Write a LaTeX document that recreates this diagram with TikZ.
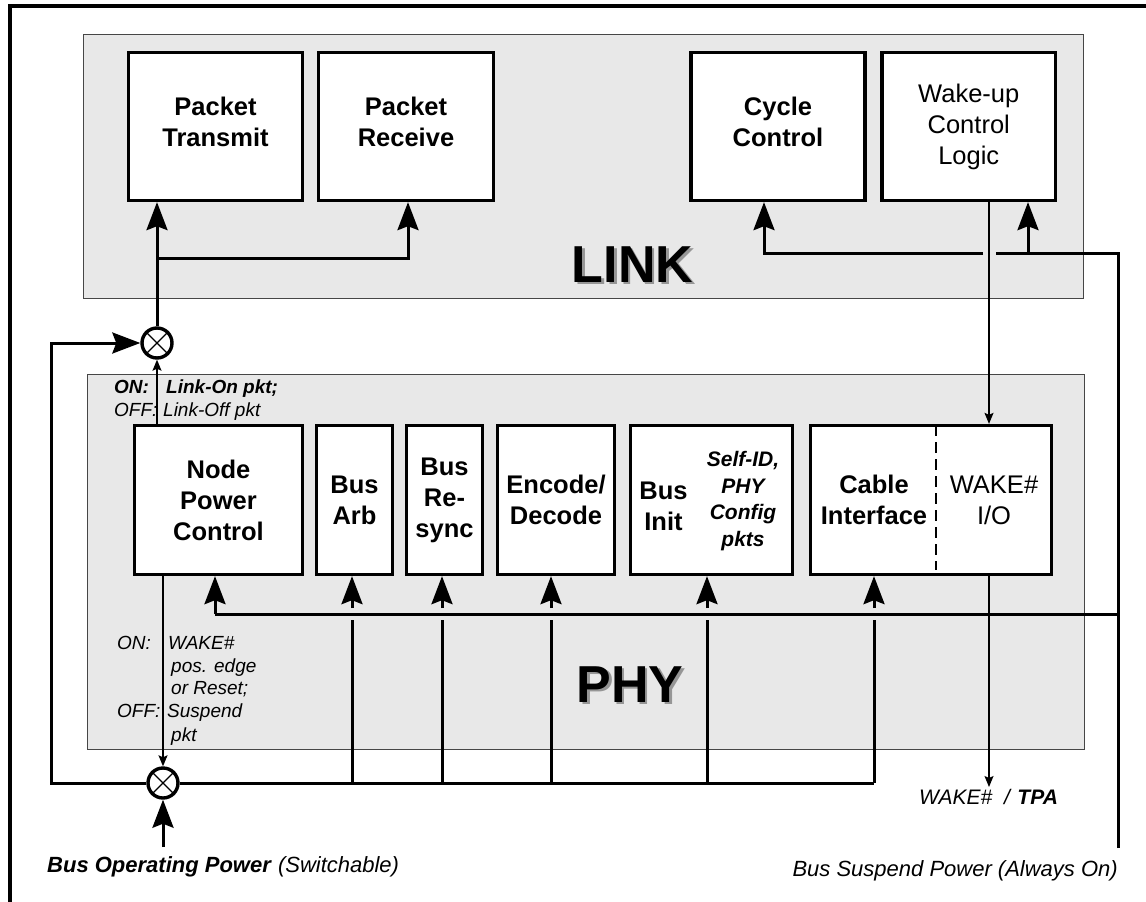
\documentclass[tikz,border=0pt]{standalone}
\usepackage{fontspec}
\setmainfont{Liberation Sans}
\usetikzlibrary{arrows.meta,calc}
\definecolor{panel}{RGB}{232,232,232}
\definecolor{panelline}{RGB}{70,70,70}
\definecolor{shadowgray}{RGB}{150,150,150}
\begin{document}
\begin{tikzpicture}[x=1pt,y=-1pt,
  panelbox/.style={fill=panel,draw=panelline,line width=1.3pt,inner sep=0pt,anchor=north west},
  blk/.style={draw=black,fill=white,line width=3.3pt,inner sep=0pt,align=center,
    font=\fontsize{25.5}{31}\selectfont\bfseries},
  blkr/.style={blk,font=\fontsize{25.5}{31}\selectfont},
  btxt/.style={inner sep=0pt,align=center,font=\fontsize{25.5}{31}\selectfont\bfseries},
  conn/.style={line width=3pt},
  bigarr/.style={conn,-{Stealth[length=28pt,width=21pt,inset=4pt]}},
  thinl/.style={line width=1.2pt},
  smallarr/.style={thinl,-{Stealth[length=11pt,width=9pt,inset=2pt]}},
  mixer/.style={circle,draw,line width=3.4pt,fill=white,minimum size=30pt,inner sep=0pt},
  lbl/.style={inner sep=0pt,anchor=base west,font=\fontsize{19}{23}\selectfont\itshape},
  lblb/.style={lbl,font=\fontsize{19}{23}\selectfont\bfseries\itshape},
  big/.style={inner sep=0pt,anchor=base,font=\fontsize{52}{60}\selectfont\bfseries},
  foot/.style={inner sep=0pt,font=\fontsize{22}{26}\selectfont}
]
\useasboundingbox (0,0) rectangle (1146,902);
% outer frame (cropped)
\draw[line width=4pt] (10,902) -- (10,5.5) -- (1146,5.5);

% panels
\node[panelbox,minimum width=1000pt,minimum height=264pt] (link) at (83,34) {};
\node[panelbox,minimum width=997pt,minimum height=375pt] (phy) at (87,374) {};

% LINK blocks
\node[blk,minimum width=174pt,minimum height=148pt] (pt) at (215.5,126.5) {};
\node[blk,minimum width=175pt,minimum height=148pt] (pr) at (406,126.5) {};
\node[blk,minimum width=174pt,minimum height=148pt] (cc) at (778,126.5) {};
\node[blkr,minimum width=173.5pt,minimum height=148pt] (wk) at (968.75,126.5) {Wake-up\\Control\\Logic};
\node[btxt] (ptt) at (215.5,121.5) {Packet\\Transmit};
\node[btxt] (prt) at (406,121.5) {Packet\\Receive};
\node[btxt] (cct) at (778,121.5) {Cycle\\Control};

% PHY blocks
\node[blk,minimum width=168pt,minimum height=149pt] (npc) at (218.5,500) {Node\\Power\\Control};
\node[blk,minimum width=76pt,minimum height=149pt] (arb) at (354.5,500) {Bus\\Arb};
\node[blk,minimum width=76pt,minimum height=149pt] (rsy) at (444.5,500) {Bus\\Re-\\sync};
\node[blk,minimum width=117pt,minimum height=149pt] (enc) at (556,500) {Encode/\\Decode};
\node[blk,minimum width=162pt,minimum height=149pt] (init) at (711.5,500) {};
\node[blk,minimum width=241pt,minimum height=149pt] (cab) at (931,500) {};
\coordinate (divx) at (936,0);
\draw[line width=2.2pt,dash pattern=on 11pt off 6pt] (cab.north -| divx) ++(0,1.5) -- (936,570);

\node[btxt] (initt) at (663.5,506) {Bus\\Init};
\node[inner sep=0pt,align=center,font=\fontsize{21}{26.7}\selectfont\bfseries\itshape] (initp) at (743,501) {Self-ID,\\PHY\\Config\\pkts};
\node[btxt] (cabt) at (874,500) {Cable\\Interface};
\node[inner sep=0pt,align=center,font=\fontsize{25.5}{31}\selectfont] (wio) at (994,500) {WAKE\#\\I/O};

% big labels with shadow
\node[big,text=shadowgray] at (635,284.5) {LINK};
\node[big] (linkt) at (632.5,282) {LINK};
\node[big,text=shadowgray] at (632.5,704.5) {PHY};
\node[big] (phyt) at (630,702) {PHY};

% mixers
\node[mixer] (m1) at (157,343) {};
\node[mixer] (m2) at (163,783) {};

% LINK connectors
\coordinate (j1) at (157,258);
\coordinate (prin) at (408,258);
\draw[bigarr] (m1.north) -- (pt.south -| m1.north);
\draw[bigarr] (j1) -- (prin) -- (pr.south -| prin);

% suspend power
\coordinate (sp) at (1118,848);
\coordinate (sc) at (1118,253);
\coordinate (gapR) at (996,253);
\coordinate (gapL) at (983,253);
\coordinate (cci) at (764,253);
\coordinate (wki) at (1028,253);
\draw[conn] (sp) -- (sc) -- (gapR);
\draw[bigarr] (gapL) -- (cci) -- (cc.south -| cci);
\draw[bigarr] (wki) -- (wk.south -| wki);

% wake line
\coordinate (wl) at (989,0);
\coordinate (wakeout) at (989,787);
\draw[smallarr] (wk.south -| wl) -- (cab.north -| wl);
\draw[smallarr] (cab.south -| wl) -- (wakeout);

% PHY horizontal control line
\coordinate (hb) at (215,614);
\coordinate (hr) at (1119.5,614);
\draw[conn] (hr) -- (hb);
\draw[bigarr] (hb) -- (npc.south -| hb);

% bottom bus
\coordinate (lb) at (51,783);
\coordinate (lt) at (51,343);
\coordinate (be) at (874,783);
\draw[bigarr] (m2.west) -- (lb) -- (lt) -- (m1.west);
\draw[conn] (m2.east) -- (be);
\foreach \xx/\bb in {352/arb,442/rsy,551/enc,707/init,874/cab} {
  \draw[conn] (\xx,783) -- (\xx,620);
  \draw[bigarr] (\xx,608) -- (\bb.south -| \xx,0);
}

% node power control thin lines
\draw[smallarr] (npc.north -| m1.south) -- (m1.south);
\draw[smallarr] (npc.south -| m2.north) -- (m2.north);
\coordinate (bop) at (163,847);
\draw[bigarr] (bop) -- (m2.south);

% mixer crosses
\foreach \m in {m1,m2} {
  \draw[thinl] (\m.north west) -- (\m.south east);
  \draw[thinl] (\m.north east) -- (\m.south west);
}

% labels
\node[lblb] (on1) at (114,393) {ON:};
\node[lblb] (on1t) at (166,393) {Link-On pkt;};
\node[lbl] (off1) at (114,416) {OFF:};
\node[lbl] (off1t) at (163,416) {Link-Off pkt};

\node[lbl] (on2) at (117,649) {ON:};
\node[lbl] (on2a) at (168,649) {WAKE\#};
\node[lbl] (on2b) at (171,672) {pos. edge};
\node[lbl] (on2c) at (171,694) {or Reset;};
\node[lbl] (off2) at (117,717) {OFF:};
\node[lbl] (off2a) at (167,717) {Suspend};
\node[lbl] (off2b) at (171,741) {pkt};

\node[foot,anchor=base west] (bopl) at (47,872) {\textbf{\textit{Bus Operating Power}} \textit{(Switchable)}};
\node[foot,anchor=base east] (spl) at (1118,876) {\textit{Bus Suspend Power (Always On)}};
\node[foot,anchor=base west,font=\fontsize{21}{25}\selectfont] (wtl) at (919,804) {\textit{WAKE\#\ \ / }\textbf{\textit{TPA}}};
\end{tikzpicture}
\end{document}
